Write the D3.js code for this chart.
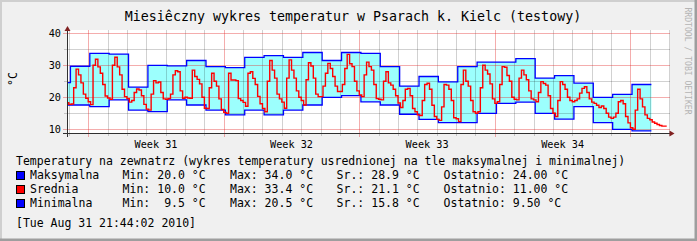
<!DOCTYPE html>
<html lang="pl">
<head>
<meta charset="UTF-8">
<title>Miesieczny wykres temperatur</title>
<style>
  html, body { margin: 0; padding: 0; background: #f0f0f0; }
  svg { display: block; }
  text { font-family: "DejaVu Sans Mono", monospace; white-space: pre; }
</style>
</head>
<body>
<script src="https://cdn.jsdelivr.net/npm/d3@7/dist/d3.min.js"></script>
<script>
// dzienne max / min, pierwsza wartosc = 31 lipca, zmiana o 02:00
var dayStart = '2010-07-31T02:00'
var maxVals = [24.6, 29.7, 33.7, 33.5, 23.2, 30.0, 29.8, 31.5, 29.6, 29.3, 32.5, 33.0, 32.5, 34.0, 31.5, 34.0,
               33.7, 29.6, 23.5, 26.5, 24.8, 29.6, 31.0, 31.0, 32.1, 26.0, 26.8, 24.4, 20.0, 20.9, 24.0]
var minVals = [17.6, 17.6, 17.1, 19.2, 16.0, 15.5, 19.2, 17.6, 16.0, 14.5, 16.0, 14.5, 16.0, 17.6, 20.0, 20.5,
               18.6, 17.6, 14.7, 13.1, 12.1, 12.1, 15.0, 18.1, 18.5, 15.0, 13.2, 17.1, 12.1, 10.0, 9.5]

// srednia co 3 godziny od 31 lipca 21:00
var avgStart = '2010-07-31T21:00'
var avgStepH = 3
var avgVals = [
  18.3,
  17.8, 17.9, 23.0, 28.8, 27.0, 24.5, 21.0, 19.7,   // 1
  18.6, 17.7, 30.0, 31.9, 29.5, 27.5, 24.0, 20.4,   // 2
  19.8, 19.4, 30.0, 32.5, 29.5, 27.0, 22.5, 20.2,   // 3
  19.6, 18.5, 19.0, 21.5, 22.6, 22.3, 20.5, 17.8,   // 4
  16.3, 16.0, 21.0, 25.2, 24.5, 24.8, 21.5, 19.5,   // 5
  19.4, 19.6, 21.0, 27.0, 28.3, 28.0, 22.0, 19.7,   // 6
  20.0, 19.8, 19.7, 28.5, 26.5, 25.6, 24.2, 20.0,   // 7
  16.6, 16.5, 23.0, 27.5, 25.0, 23.5, 19.5, 16.2,   // 8
  15.3, 15.0, 27.5, 25.4, 25.4, 25.2, 19.6, 19.0,   // 9
  18.4, 17.2, 27.5, 28.0, 25.9, 24.0, 20.3, 18.0,   // 10
  16.5, 15.5, 25.0, 31.5, 28.5, 26.0, 21.0, 19.5,   // 11
  18.5, 16.6, 26.0, 31.7, 28.5, 26.0, 22.0, 20.0,   // 12
  19.0, 17.6, 25.5, 30.8, 29.8, 26.0, 21.0, 20.2,   // 13
  20.2, 23.5, 27.5, 30.6, 29.0, 26.5, 23.5, 21.8,   // 14
  21.8, 24.0, 29.0, 33.4, 30.5, 29.6, 25.0, 22.0,   // 15
  20.7, 20.2, 27.0, 31.0, 29.6, 28.5, 24.0, 19.6,   // 16
  19.4, 19.2, 25.0, 28.0, 24.5, 23.8, 22.5, 20.5,   // 17
  18.2, 16.8, 19.0, 22.5, 22.8, 20.5, 16.5, 15.5,   // 18
  14.5, 14.3, 19.0, 24.0, 24.4, 22.5, 17.5, 14.0,   // 19
  13.1, 12.8, 17.0, 24.0, 23.8, 22.5, 19.0, 13.6,   // 20
  13.3, 12.4, 24.0, 28.5, 25.0, 23.5, 19.0, 15.5,   // 21
  15.0, 15.5, 23.0, 30.0, 28.5, 27.3, 24.2, 19.5,   // 22
  18.1, 18.6, 24.0, 29.6, 29.4, 26.8, 25.0, 20.0,   // 23
  19.4, 19.2, 26.0, 28.5, 27.0, 25.5, 22.0, 19.5,   // 24
  19.2, 18.6, 21.5, 24.9, 24.3, 23.8, 20.5, 16.5,   // 25
  15.0, 14.0, 19.0, 24.9, 24.0, 22.5, 20.0, 19.0,   // 26
  18.6, 19.0, 19.5, 21.3, 22.8, 23.3, 21.5, 19.5,   // 27
  18.5, 18.1, 17.5, 16.8, 17.3, 16.5, 15.0, 13.8,   // 28
  13.4, 13.8, 15.0, 18.6, 19.0, 18.0, 14.0, 12.0,   // 29
  10.5, 10.0, 16.0, 22.5, 19.5, 17.0, 14.5, 13.4,   // 30
  13.0, 12.3, 11.9, 11.5, 11.2, 11.0, 11.0, 11.0    // 31
]

var seriesNames = ['Maksymalna', 'Srednia', 'Minimalna']
var seriesColors = ['#0000ff', '#ff0000', '#0000ff']
var statMin = [20.0, 10.0, 9.5]
var statMax = [34.0, 33.4, 20.5]
var statAvg = [28.9, 21.1, 15.8]
var statLast = [24.00, 11.00, 9.50]

var title = 'Miesiêczny wykres temperatur w Psarach k. Kielc (testowy)'
var legendTitle = 'Temperatury na zewnatrz (wykres temperatury usrednionej na tle maksymalnej i minimalnej)'
var stamp = '[Tue Aug 31 21:44:02 2010]'
var unit = '°C'

var W = 697, H = 241
var parse = d3.utcParse('%Y-%m-%dT%H:%M')
var t0 = parse('2010-07-31T21:44'), t1 = parse('2010-09-01T01:04')

var x = d3.scaleUtc().domain([t0, t1]).range([67, 670])
var y = d3.scaleLinear().domain([10, 40]).range([129.3, 33.3])
var plotTop = 30, plotBottom = 133.5

var svg = d3.select('body').append('svg').attr('width', W).attr('height', H)

// tlo + ramka
svg.append('rect').attr('width', W).attr('height', H).attr('fill', '#f0f0f0')
svg.append('path').attr('d', `M0,${H} L0,0 L${W},0`).attr('fill', 'none').attr('stroke', '#cfcfcf').attr('stroke-width', 4)
svg.append('path').attr('d', `M${W},0 L${W},${H} L0,${H}`).attr('fill', 'none').attr('stroke', '#9e9e9e').attr('stroke-width', 5)

svg.append('rect').attr('x', x.range()[0]).attr('y', plotTop)
  .attr('width', x.range()[1] - x.range()[0]).attr('height', plotBottom - plotTop).attr('fill', '#fff')

svg.append('defs').append('clipPath').attr('id', 'clip').append('rect')
  .attr('x', x.range()[0]).attr('y', plotTop)
  .attr('width', x.range()[1] - x.range()[0]).attr('height', plotBottom - plotTop)

var px = v => Math.round(v) + 0.5

// dane
var dayPts = maxVals.map((v, i) => ({ t: d3.utcDay.offset(parse(dayStart), i), hi: v, lo: minVals[i] }))
var lastDay = dayPts[dayPts.length - 1]
dayPts.push({ t: d3.utcDay.offset(lastDay.t, 1), hi: lastDay.hi, lo: lastDay.lo })
var avgPts = avgVals.map((v, i) => ({ t: d3.utcHour.offset(parse(avgStart), i * avgStepH), v: v }))

var plot = svg.append('g').attr('clip-path', 'url(#clip)')
plot.append('path').datum(dayPts)
  .attr('d', d3.area().curve(d3.curveStepAfter).x(d => x(d.t)).y0(d => y(d.lo)).y1(d => y(d.hi)))
  .attr('fill', '#9cfffd')

// siatka (nad wypelnieniem, polprzezroczysta)
var grid = svg.append('g').attr('shape-rendering', 'crispEdges').attr('stroke-width', 1)
var mondays = d3.utcMonday.range(t0, t1)
var days = d3.utcDay.range(t0, t1).filter(d => d.getUTCDay() != 1)
var minorCol = 'rgba(0,0,0,0.18)', majorCol = 'rgba(225,40,40,0.38)'
grid.selectAll('.vmin').data(days).enter().append('line')
  .attr('x1', d => px(x(d))).attr('x2', d => px(x(d)))
  .attr('y1', plotTop).attr('y2', plotBottom + 2).attr('stroke', minorCol)
var yMinor = y.ticks(6).filter(v => v % 10 != 0)
grid.selectAll('.hmin').data(yMinor).enter().append('line')
  .attr('x1', 64).attr('x2', 670).attr('y1', d => px(y(d))).attr('y2', d => px(y(d))).attr('stroke', minorCol)
grid.selectAll('.vmaj').data(mondays).enter().append('line')
  .attr('x1', d => px(x(d))).attr('x2', d => px(x(d)))
  .attr('y1', plotTop).attr('y2', plotBottom + 3).attr('stroke', majorCol)
grid.selectAll('.hmaj').data(y.ticks(3)).enter().append('line')
  .attr('x1', 63).attr('x2', 670).attr('y1', d => px(y(d))).attr('y2', d => px(y(d))).attr('stroke', majorCol)

var lines = svg.append('g').attr('clip-path', 'url(#clip)')
lines.append('path').datum(dayPts)
  .attr('d', d3.line().curve(d3.curveStepAfter).x(d => x(d.t)).y(d => y(d.hi)))
  .attr('fill', 'none').attr('stroke', '#0000ff').attr('stroke-width', 1.3)
lines.append('path').datum(dayPts)
  .attr('d', d3.line().curve(d3.curveStepAfter).x(d => x(d.t)).y(d => y(d.lo)))
  .attr('fill', 'none').attr('stroke', '#0000ff').attr('stroke-width', 1.3)
lines.append('path').datum(avgPts)
  .attr('d', d3.line().curve(d3.curveStepAfter).x(d => x(d.t)).y(d => y(d.v)))
  .attr('fill', 'none').attr('stroke', '#ff0000').attr('stroke-width', 1.4)

// osie
var ax = svg.append('g').attr('shape-rendering', 'crispEdges')
var axY = px(plotBottom - 0.5)
ax.append('line').attr('x1', 63).attr('x2', 671).attr('y1', axY).attr('y2', axY).attr('stroke', '#303030')
ax.append('line').attr('x1', 67.5).attr('x2', 67.5).attr('y1', plotBottom + 3).attr('y2', 29).attr('stroke', '#303030')
svg.append('path').attr('d', 'M64.5,31 L70.5,31 L67.5,26 Z').attr('fill', '#802020')
svg.append('path').attr('d', `M669.5,${axY - 3} L669.5,${axY + 3} L674.5,${axY} Z`).attr('fill', '#802020')

svg.selectAll('.ylab').data(y.ticks(3)).enter().append('text')
  .attr('x', 61).attr('y', d => y(d) + 3.6).attr('text-anchor', 'end')
  .attr('font-size', 10.2).attr('fill', '#000').text(d => d)

var weekFmt = d3.utcFormat('%V')
svg.selectAll('.wlab').data(mondays.filter(d => d3.utcDay.offset(d, 7) <= t1)).enter().append('text')
  .attr('x', d => x(d3.utcHour.offset(d, 84))).attr('y', 147.6).attr('text-anchor', 'middle')
  .attr('font-size', 10.2).attr('fill', '#000').text(d => 'Week ' + (+weekFmt(d)))

// teksty
svg.append('text').attr('x', 353).attr('y', 21).attr('text-anchor', 'middle')
  .attr('font-size', 13.3).attr('fill', '#000').text(title)
svg.append('text').attr('transform', 'translate(17,79) rotate(-90)').attr('text-anchor', 'middle')
  .attr('font-size', 11.5).attr('fill', '#000').text(unit)
svg.append('text').attr('transform', 'translate(684.5,61) rotate(90)').attr('text-anchor', 'middle')
  .attr('font-size', 8.1).attr('fill', '#b4b4b4').text('RRDTOOL / TOBI OETIKER')

var lg = svg.append('g').attr('font-size', 11.5).attr('fill', '#000')
lg.append('text').attr('x', 16).attr('y', 165).text(legendTitle)
var f1 = d3.format('4.1f'), f2 = d3.format('.2f')
var rowY = [179, 193, 207]
seriesNames.forEach(function (name, i) {
  var yy = rowY[i]
  lg.append('rect').attr('x', 16.5).attr('y', yy - 7.5).attr('width', 8).attr('height', 8)
    .attr('fill', seriesColors[i]).attr('stroke', '#000').attr('stroke-width', 1).attr('shape-rendering', 'crispEdges')
  lg.append('text').attr('x', 30).attr('y', yy).text(name)
  lg.append('text').attr('x', 122.6).attr('y', yy).text('Min: ' + f1(statMin[i]) + ' °C')
  lg.append('text').attr('x', 230).attr('y', yy).text('Max: ' + f1(statMax[i]) + ' °C')
  lg.append('text').attr('x', 336.6).attr('y', yy).text('Sr.: ' + f1(statAvg[i]) + ' °C')
  lg.append('text').attr('x', 443.6).attr('y', yy).text('Ostatnio: ' + f2(statLast[i]) + ' °C')
})
lg.append('text').attr('x', 16).attr('y', 227).text(stamp)
</script>
</body>
</html>
